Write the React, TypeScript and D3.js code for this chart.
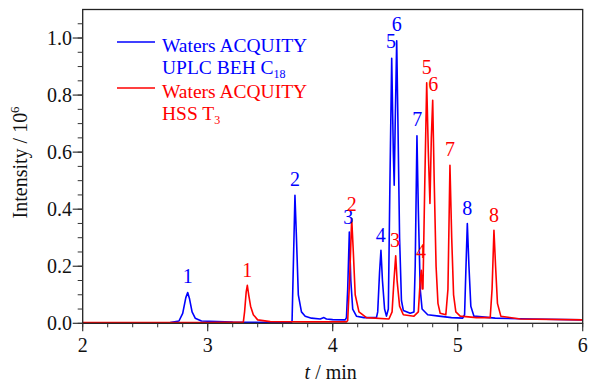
import React from "react";
import * as d3 from "d3";

// ---- data ----
const xTicks = [2, 3, 4, 5, 6];
const yTicks = [0.0, 0.2, 0.4, 0.6, 0.8, 1.0];

const blueTrace: [number, number][] = [
  [2.0, 0.002], [2.7, 0.003], [2.77, 0.008], [2.8, 0.035], [2.825, 0.09], [2.84, 0.108], [2.855, 0.085],
  [2.875, 0.04], [2.9, 0.018], [2.95, 0.008], [3.2, 0.004], [3.67, 0.003],
  [3.675, 0.01], [3.685, 0.2], [3.698, 0.449], [3.71, 0.3], [3.725, 0.1], [3.75, 0.04], [3.78, 0.025],
  [3.83, 0.018], [3.9, 0.015], [3.93, 0.02], [3.95, 0.015], [4.0, 0.013], [4.1, 0.012],
  [4.11, 0.02], [4.12, 0.12], [4.133, 0.32], [4.145, 0.15], [4.16, 0.05], [4.19, 0.025], [4.25, 0.02], [4.35, 0.02],
  [4.36, 0.04], [4.375, 0.18], [4.386, 0.256], [4.398, 0.15], [4.415, 0.05], [4.43, 0.025],
  [4.445, 0.05], [4.458, 0.5], [4.472, 0.929], [4.485, 0.6], [4.492, 0.484], [4.5, 0.7], [4.512, 0.99],
  [4.522, 0.7], [4.535, 0.3], [4.55, 0.08], [4.565, 0.045], [4.62, 0.035], [4.65, 0.04],
  [4.66, 0.2], [4.674, 0.657], [4.685, 0.4], [4.7, 0.12], [4.715, 0.05], [4.76, 0.03], [4.85, 0.025],
  [4.95, 0.02], [5.04, 0.018],
  [5.055, 0.03], [5.065, 0.18], [5.077, 0.35], [5.09, 0.2], [5.105, 0.06], [5.13, 0.025], [5.3, 0.018],
  [5.6, 0.015], [6.0, 0.012],
];

const redTrace: [number, number][] = [
  [2.0, 0.003], [3.0, 0.003], [3.285, 0.004], [3.295, 0.04], [3.308, 0.11], [3.317, 0.133], [3.328, 0.1],
  [3.343, 0.06], [3.365, 0.03], [3.4, 0.012], [3.5, 0.006], [3.8, 0.005], [4.11, 0.005],
  [4.12, 0.01], [4.135, 0.15], [4.152, 0.367], [4.165, 0.25], [4.18, 0.1], [4.21, 0.04], [4.27, 0.02], [4.45, 0.015],
  [4.475, 0.04], [4.49, 0.15], [4.504, 0.237], [4.515, 0.15], [4.535, 0.06], [4.565, 0.03], [4.65, 0.025],
  [4.685, 0.04], [4.7, 0.15], [4.709, 0.186], [4.716, 0.12], [4.722, 0.12], [4.737, 0.5], [4.752, 0.843],
  [4.765, 0.6], [4.778, 0.42], [4.789, 0.65], [4.8, 0.782], [4.812, 0.5], [4.827, 0.2], [4.842, 0.07],
  [4.86, 0.035], [4.905, 0.03],
  [4.922, 0.12], [4.938, 0.554], [4.952, 0.3], [4.967, 0.1], [4.985, 0.04], [5.02, 0.025], [5.15, 0.02], [5.26, 0.02],
  [5.275, 0.12], [5.29, 0.326], [5.303, 0.2], [5.318, 0.07], [5.345, 0.025], [5.5, 0.015], [6.0, 0.012],
];

const blueLabels: [string, number, number][] = [
  ["1", 2.84, 0.14], ["2", 3.698, 0.482], ["3", 4.125, 0.348], ["4", 4.384, 0.286],
  ["5", 4.466, 0.965], ["6", 4.512, 1.023], ["7", 4.677, 0.69], ["8", 5.077, 0.38],
];
const redLabels: [string, number, number][] = [
  ["1", 3.317, 0.164], ["2", 4.152, 0.395], ["3", 4.498, 0.269], ["4", 4.706, 0.228],
  ["5", 4.752, 0.875], ["6", 4.805, 0.813], ["7", 4.938, 0.585], ["8", 5.29, 0.356],
];

const BLUE = "#0000ff";
const RED = "#ff0000";
const FONT = "Liberation Serif";
const txt: React.CSSProperties = { fontFamily: FONT };

export default function App() {
  const W = 589, H = 382;
  const left = 82.7, right = 582.7, top = 9.5, bottom = 323.3;
  const x = d3.scaleLinear().domain([2, 6]).range([left, right]);
  const y = d3.scaleLinear().domain([0, 1.1]).range([bottom, top]);
  const line = d3.line<[number, number]>().x((d) => x(d[0])).y((d) => y(d[1]));
  const xMinor = d3.range(2, 6.0001, 0.2);
  const yMinor = d3.range(0, 1.0501, 0.05);

  return (
    <div style={{ position: "absolute", left: 0, top: 0 }}>
      <svg width={W} height={H} style={{ display: "block", background: "#fff", fontFamily: FONT }}>
        <rect x={0} y={0} width={W} height={H} fill="#fff" />
        {/* traces */}
        <path d={line(blueTrace) || ""} fill="none" stroke={BLUE} strokeWidth={1.6} strokeLinejoin="round" />
        <path d={line(redTrace) || ""} fill="none" stroke={RED} strokeWidth={1.6} strokeLinejoin="round" />
        {/* frame */}
        <rect x={left} y={top} width={right - left} height={bottom - top} fill="none" stroke="#222" strokeWidth={1.3} />
        {/* x ticks */}
        {xMinor.map((v, i) => (
          <line key={"xm" + i} x1={x(v)} x2={x(v)} y1={bottom} y2={bottom + 4} stroke="#333" strokeWidth={1} />
        ))}
        {xTicks.map((v) => (
          <g key={"xt" + v}>
            <line x1={x(v)} x2={x(v)} y1={bottom} y2={bottom + 8} stroke="#333" strokeWidth={1.2} />
            <text style={txt} x={x(v)} y={352} textAnchor="middle" fontSize={20} fill="#111">{v}</text>
          </g>
        ))}
        {/* y ticks */}
        {yMinor.map((v, i) => (
          <line key={"ym" + i} x1={left - 5} x2={left} y1={y(v)} y2={y(v)} stroke="#333" strokeWidth={1} />
        ))}
        {yTicks.map((v) => (
          <g key={"yt" + v}>
            <line x1={left - 10} x2={left} y1={y(v)} y2={y(v)} stroke="#333" strokeWidth={1.2} />
            <text style={txt} x={72} y={y(v) + 7} textAnchor="end" fontSize={20} fill="#111">{v.toFixed(1)}</text>
          </g>
        ))}
        {/* axis titles */}
        <text style={txt} transform={`translate(27,${(top + bottom) / 2 - 4}) rotate(-90)`} textAnchor="middle" fontSize={20} fill="#111">
          Intensity / 10<tspan fontSize={13} dy={-8}>6</tspan>
        </text>
        <text style={txt} x={(left + right) / 2 - 2} y={379} textAnchor="middle" fontSize={20} fill="#111">
          <tspan fontStyle="italic">t</tspan> / min
        </text>
        {/* peak labels */}
        {blueLabels.map(([s, t, v], i) => (
          <text style={txt} key={"bl" + i} x={x(t)} y={y(v)} textAnchor="middle" fontSize={20} fill={BLUE}>{s}</text>
        ))}
        {redLabels.map(([s, t, v], i) => (
          <text style={txt} key={"rl" + i} x={x(t)} y={y(v)} textAnchor="middle" fontSize={20} fill={RED}>{s}</text>
        ))}
        {/* legend */}
        <line x1={117} x2={155} y1={42} y2={42} stroke={BLUE} strokeWidth={1.6} />
        <text style={txt} x={162} y={52} fontSize={19.5} fill={BLUE}>Waters ACQUITY</text>
        <text style={txt} x={162} y={74} fontSize={19.5} fill={BLUE}>
          UPLC BEH C<tspan fontSize={12} dy={4}>18</tspan>
        </text>
        <line x1={117} x2={155} y1={88} y2={88} stroke={RED} strokeWidth={1.6} />
        <text style={txt} x={162} y={98} fontSize={19.5} fill={RED}>Waters ACQUITY</text>
        <text style={txt} x={162} y={120} fontSize={19.5} fill={RED}>
          HSS T<tspan fontSize={12} dy={4}>3</tspan>
        </text>
      </svg>
    </div>
  );
}
